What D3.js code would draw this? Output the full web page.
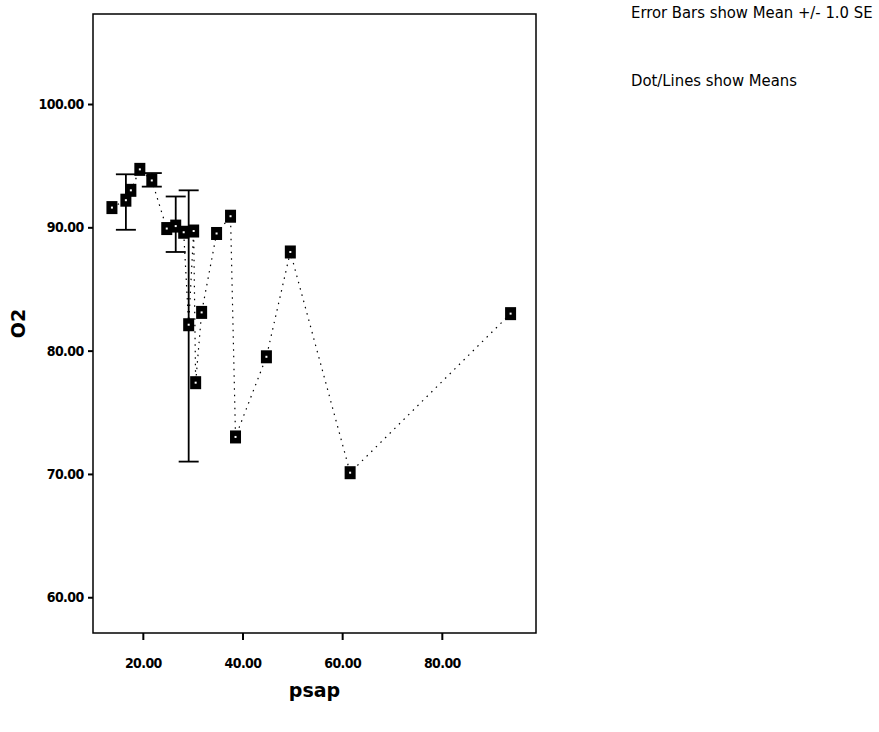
<!DOCTYPE html>
<html>
<head>
<meta charset="utf-8">
<script src="https://cdn.jsdelivr.net/npm/d3@7"></script>
<style>
  body { margin: 0; background: #fff; }
  svg { display: block; }
  .tick text { font-family: "Liberation Sans Narrow", "DejaVu Sans Condensed", sans-serif; font-stretch: condensed; font-size: 14px; font-weight: bold; letter-spacing: -0.6px; }
  .note { font-family: "Liberation Sans Narrow", "DejaVu Sans Condensed", sans-serif; font-stretch: condensed; font-size: 16.5px; }
  .title { font-family: "DejaVu Sans", sans-serif; font-size: 19px; font-weight: bold; }
</style>
</head>
<body>
<svg width="879" height="732"></svg>
<script>
var svg = d3.select("svg");

// means, sorted by psap
let psap = [13.8, 16.6, 17.6, 19.4, 21.8, 24.8, 26.6, 28.2, 29.2, 30.2, 30.6, 31.8, 34.8, 37.6, 38.6, 44.8, 49.6, 61.6, 93.8];
let o2 = [91.6, 92.2, 93.0, 94.7, 93.8, 89.9, 90.1, 89.6, 82.1, 89.7, 77.4, 83.1, 89.5, 90.9, 73.0, 79.5, 88.0, 70.1, 83.0];
// error bars (mean +/- 1 SE) where the picture shows them
let errX = [16.6, 21.8, 26.6, 29.2];
let errLow = [89.8, 93.3, 88.0, 71.0];
let errHigh = [94.3, 94.4, 92.5, 93.0];

let xTicks = [20, 40, 60, 80];
let yTicks = [60, 70, 80, 90, 100];

let pLeft = 93, pRight = 536, pTop = 14, pBottom = 633;

let x = d3.scaleLinear().domain([10, 98.9]).range([pLeft, pRight]);
let y = d3.scaleLinear().domain([57.1, 107.3]).range([pBottom, pTop]);

let points = psap.map((d, i) => ({ x: d, y: o2[i] }));
let errs = errX.map((d, i) => ({ x: d, lo: errLow[i], hi: errHigh[i] }));

let g = svg.append("g");

// frame
g.append("rect")
  .attr("x", pLeft).attr("y", pTop)
  .attr("width", pRight - pLeft).attr("height", pBottom - pTop)
  .attr("fill", "none").attr("stroke", "#000").attr("stroke-width", 1.5);

// axes
let xAxis = g.append("g")
  .attr("transform", `translate(0,${pBottom})`)
  .call(d3.axisBottom(x).tickValues(xTicks).tickSize(7).tickSizeOuter(0).tickFormat(d3.format(".2f")));
xAxis.select(".domain").remove();
xAxis.selectAll("line").attr("stroke-width", 2);
xAxis.selectAll("text").attr("dy", "1.8em");

let yAxis = g.append("g")
  .attr("transform", `translate(${pLeft},0)`)
  .call(d3.axisLeft(y).tickValues(yTicks).tickSize(5).tickSizeOuter(0).tickFormat(d3.format(".2f")));
yAxis.select(".domain").remove();
yAxis.selectAll("line").attr("stroke-width", 2);
yAxis.selectAll("text").attr("dx", "-0.1em");

// dotted line through the means
let line = d3.line().x(d => x(d.x)).y(d => y(d.y));
g.append("path")
  .datum(points)
  .attr("d", line)
  .attr("fill", "none")
  .attr("stroke", "#000")
  .attr("stroke-width", 1.2)
  .attr("stroke-dasharray", "1.5,5");

// error bars
let eb = g.selectAll(".err").data(errs).enter().append("g").attr("class", "err");
eb.append("line")
  .attr("x1", d => x(d.x)).attr("x2", d => x(d.x))
  .attr("y1", d => y(d.lo)).attr("y2", d => y(d.hi))
  .attr("stroke", "#000").attr("stroke-width", 1.8);
eb.append("line")
  .attr("x1", d => x(d.x) - 10).attr("x2", d => x(d.x) + 10)
  .attr("y1", d => y(d.hi)).attr("y2", d => y(d.hi))
  .attr("stroke", "#000").attr("stroke-width", 1.8);
eb.append("line")
  .attr("x1", d => x(d.x) - 10).attr("x2", d => x(d.x) + 10)
  .attr("y1", d => y(d.lo)).attr("y2", d => y(d.lo))
  .attr("stroke", "#000").attr("stroke-width", 1.8);

// square markers
let m = g.selectAll(".pt").data(points).enter().append("g").attr("class", "pt");
m.append("rect")
  .attr("x", d => x(d.x) - 5.5).attr("y", d => y(d.y) - 6.5)
  .attr("width", 11).attr("height", 13)
  .attr("fill", "#000");
m.append("rect")
  .attr("x", d => x(d.x) - 1).attr("y", d => y(d.y) - 1)
  .attr("width", 2).attr("height", 2)
  .attr("fill", "#fff");

// titles
svg.append("text").attr("class", "title")
  .attr("x", (pLeft + pRight) / 2).attr("y", 697)
  .attr("text-anchor", "middle").text("psap");
svg.append("text").attr("class", "title")
  .attr("transform", `translate(25,${(pTop + pBottom) / 2}) rotate(-90)`)
  .attr("text-anchor", "middle").text("O2");

// notes
svg.append("text").attr("class", "note")
  .attr("x", 631).attr("y", 18).text("Error Bars show Mean +/- 1.0 SE");
svg.append("text").attr("class", "note")
  .attr("x", 631).attr("y", 86).text("Dot/Lines show Means");
</script>
</body>
</html>
